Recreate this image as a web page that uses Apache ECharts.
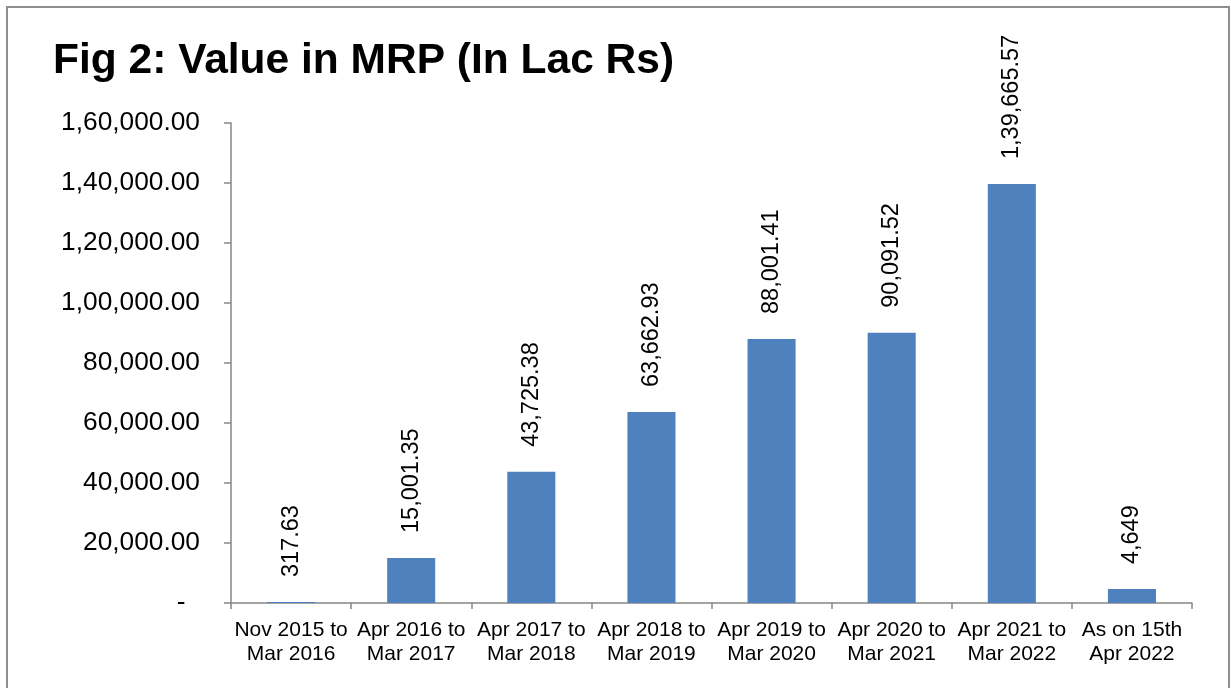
<!DOCTYPE html>
<html>
<head>
<meta charset="utf-8">
<script src="https://cdn.jsdelivr.net/npm/echarts@6/dist/echarts.min.js"></script>
<style>
html,body{margin:0;padding:0;background:#fff;}
#chart{width:1231px;height:688px;}
</style>
</head>
<body>
<div id="chart"></div>
<script>
const categories = ['Nov 2015 to\nMar 2016','Apr 2016 to\nMar 2017','Apr 2017 to\nMar 2018','Apr 2018 to\nMar 2019','Apr 2019 to\nMar 2020','Apr 2020 to\nMar 2021','Apr 2021 to\nMar 2022','As on 15th\nApr 2022'];
const values = [317.63, 15001.35, 43725.38, 63662.93, 88001.41, 90091.52, 139665.57, 4649];
const dataLabels = ['317.63','15,001.35','43,725.38','63,662.93','88,001.41','90,091.52','1,39,665.57','4,649'];
const yMin = 0, yMax = 160000, yInterval = 20000;
const titleText = 'Fig 2: Value in MRP (In Lac Rs)';

function indianFormat(v){
  if (v === 0) return '-\u00a0\u00a0';
  let parts = v.toFixed(2).split('.');
  let s = parts[0];
  let last3 = s.slice(-3);
  let rest = s.slice(0, -3);
  if (rest.length) {
    rest = rest.replace(/\B(?=(\d{2})+(?!\d))/g, ',');
    s = rest + ',' + last3;
  } else s = last3;
  return s + '.' + parts[1];
}

const chart = echarts.init(document.getElementById('chart'), null, {renderer:'canvas'});
chart.setOption({
  animation:false,
  backgroundColor:'#fff',
  textStyle:{fontFamily:'Liberation Sans, Arial, sans-serif'},
  graphic:[{
    type:'rect', shape:{x:7,y:7,width:1222,height:700},
    style:{fill:'none',stroke:'#8e8e8e',lineWidth:2}, silent:true, z:-1
  }],
  title:{
    text:titleText, left:53, top:40, padding:0,
    textStyle:{fontSize:42.5,fontWeight:'bold',color:'#000',fontFamily:'Liberation Sans, Arial, sans-serif'}
  },
  grid:{left:231,right:39,top:123,bottom:85,containLabel:false},
  xAxis:{
    type:'category', data:categories,
    axisLine:{lineStyle:{color:'#868686',width:1.5}},
    axisTick:{show:true,length:6,lineStyle:{color:'#868686',width:1.5}},
    axisLabel:{fontSize:21,color:'#000',lineHeight:24,margin:15,interval:0,fontFamily:'Liberation Sans, Arial, sans-serif'}
  },
  yAxis:{
    type:'value', min:yMin, max:yMax, interval:yInterval,
    axisLine:{show:true,lineStyle:{color:'#868686',width:1.5}},
    axisTick:{show:true,length:7,lineStyle:{color:'#868686',width:1.5}},
    splitLine:{show:false},
    axisLabel:{fontSize:26.3,color:'#000',margin:31,formatter:indianFormat,fontFamily:'Liberation Sans, Arial, sans-serif'}
  },
  series:[{
    type:'bar', data:values, barWidth:'40%',
    itemStyle:{color:'#4F81BD'},
    label:{
      show:true, position:'top', rotate:90, align:'left', verticalAlign:'middle', distance:25,
      fontSize:23.5, color:'#000', fontFamily:'Liberation Sans, Arial, sans-serif',
      formatter:p=>dataLabels[p.dataIndex]
    }
  }]
});
</script>
</body>
</html>
